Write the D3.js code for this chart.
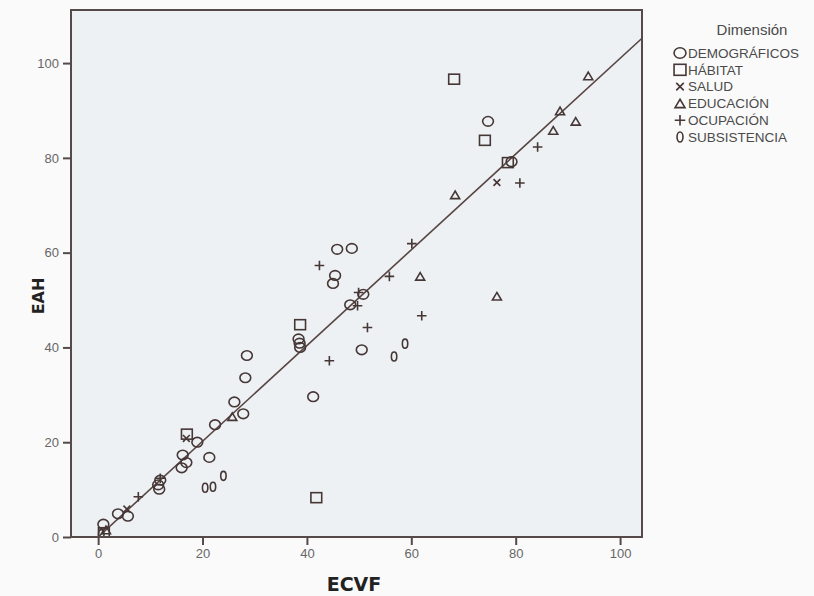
<!DOCTYPE html>
<html>
<head>
<meta charset="utf-8">
<script src="https://cdn.jsdelivr.net/npm/d3@7"></script>
<style>
  html, body { margin: 0; padding: 0; background: #fafafa; }
  svg { display: block; }
</style>
</head>
<body>
<svg id="chart" width="814" height="596"></svg>
<script>
// ---- Data ----
const categories = ["DEMOGRÁFICOS", "HÁBITAT", "SALUD", "EDUCACIÓN", "OCUPACIÓN", "SUBSISTENCIA"];
const shapes = ["circle", "square", "cross", "triangle", "plus", "zero"];

const demograficos = [
  [74.7, 87.7], [79.2, 79.2], [45.8, 60.7], [48.6, 60.9], [45.4, 55.2], [45.0, 53.5],
  [50.8, 51.2], [48.3, 49.0], [38.4, 41.8], [38.6, 40.9], [38.7, 40.0], [50.5, 39.5],
  [41.2, 29.6], [28.5, 38.3], [28.2, 33.6], [26.1, 28.5], [27.8, 26.0], [22.4, 23.7],
  [19.0, 20.0], [21.3, 16.8], [16.2, 17.3], [16.9, 15.7], [16.0, 14.6], [11.9, 12.0],
  [11.7, 10.1], [3.8, 4.9], [5.7, 4.4], [1.0, 2.7], [11.5, 11.0]
];
const habitat = [
  [68.2, 96.6], [74.1, 83.7], [78.5, 79.0], [38.7, 44.8], [17.0, 21.7], [41.8, 8.3], [1.1, 0.9]
];
const salud = [
  [76.4, 74.8], [16.9, 20.8], [5.5, 5.9]
];
const educacion = [
  [93.9, 97.3], [88.5, 89.9], [87.2, 85.8], [91.5, 87.7], [68.4, 72.2], [61.7, 55.0],
  [76.4, 50.8], [25.7, 25.4], [1.5, 1.5]
];
const ocupacion = [
  [84.2, 82.3], [80.8, 74.7], [60.1, 61.9], [42.4, 57.3], [55.8, 55.0], [49.9, 51.6],
  [49.7, 48.8], [62.0, 46.7], [51.6, 44.2], [44.3, 37.2], [7.7, 8.5], [11.9, 12.4]
];
const subsistencia = [
  [58.8, 40.8], [56.7, 38.1], [24.0, 12.9], [20.5, 10.4], [22.0, 10.6], [0.6, 0.6]
];
const seriesValues = [demograficos, habitat, salud, educacion, ocupacion, subsistencia];

const tickValues = [0, 20, 40, 60, 80, 100];
const fitSlope = 1.01;
const fitIntercept = 0.0;
const fitRange = [0, 104.2];

// ---- Layout ----
const svg = d3.select("#chart");
const pL = 71, pR = 642, pT = 10, pB = 537;
const ink = "#453735";

const x = d3.scaleLinear().domain([-5.2, 104.2]).range([pL, pR]);
const y = d3.scaleLinear().domain([0, 111.2]).range([pB, pT]);

// plot background
svg.append("rect").attr("x", pL).attr("y", pT)
  .attr("width", pR - pL).attr("height", pB - pT)
  .attr("fill", "#eef1f4");

// clip
svg.append("clipPath").attr("id", "clip").append("rect")
  .attr("x", pL).attr("y", pT).attr("width", pR - pL).attr("height", pB - pT);

// fit line
svg.append("line")
  .attr("clip-path", "url(#clip)")
  .attr("x1", x(fitRange[0])).attr("y1", y(fitIntercept + fitSlope * fitRange[0]))
  .attr("x2", x(fitRange[1])).attr("y2", y(fitIntercept + fitSlope * fitRange[1]))
  .attr("stroke", "#574543").attr("stroke-width", 1.6);

// marker drawer
function drawMarker(g, shape, cx, cy, s) {
  s = s || 1;
  const st = { stroke: ink, "stroke-width": 1.6, fill: "none" };
  const apply = (sel) => { Object.entries(st).forEach(([k, v]) => sel.attr(k, v)); return sel; };
  if (shape === "circle") {
    apply(g.append("ellipse").attr("cx", cx).attr("cy", cy).attr("rx", 5.4 * s).attr("ry", 4.8 * s));
  } else if (shape === "square") {
    apply(g.append("rect").attr("x", cx - 5.4 * s).attr("y", cy - 5 * s).attr("width", 10.8 * s).attr("height", 10 * s));
  } else if (shape === "cross") {
    const d = 3.4 * s;
    apply(g.append("path").attr("d", `M${cx - d},${cy - d}L${cx + d},${cy + d}M${cx - d},${cy + d}L${cx + d},${cy - d}`));
  } else if (shape === "triangle") {
    const w = 4.5 * s, h = 3.8 * s;
    apply(g.append("path").attr("d", `M${cx},${cy - h}L${cx + w},${cy + h}L${cx - w},${cy + h}Z`));
  } else if (shape === "plus") {
    const d = 4.8 * s;
    apply(g.append("path").attr("d", `M${cx - d},${cy}L${cx + d},${cy}M${cx},${cy - d}L${cx},${cy + d}`));
  } else if (shape === "zero") {
    apply(g.append("ellipse").attr("cx", cx).attr("cy", cy).attr("rx", 2.7 * s).attr("ry", 4.5 * s));
  }
}

const pts = svg.append("g").attr("clip-path", "url(#clip)");
seriesValues.forEach((arr, i) => {
  arr.forEach(([vx, vy]) => drawMarker(pts, shapes[i], x(vx), y(vy)));
});

// frame
svg.append("rect").attr("x", pL).attr("y", pT)
  .attr("width", pR - pL).attr("height", pB - pT)
  .attr("fill", "none").attr("stroke", "#55494a").attr("stroke-width", 2);

// axes
const axisFont = "'Liberation Sans', Arial, sans-serif";
const yAxis = svg.append("g").attr("transform", `translate(${pL},0)`)
  .call(d3.axisLeft(y).tickValues(tickValues).tickSize(8).tickPadding(4));
const xAxis = svg.append("g").attr("transform", `translate(0,${pB})`)
  .call(d3.axisBottom(x).tickValues(tickValues).tickSize(8).tickPadding(4));
[xAxis, yAxis].forEach(a => {
  a.select(".domain").remove();
  a.selectAll(".tick line").attr("stroke", "#55494a").attr("stroke-width", 2);
  a.selectAll(".tick text").attr("fill", "#666").style("font-family", axisFont).style("font-size", "13px");
});

// axis titles
svg.append("text").text("ECVF")
  .attr("x", 354).attr("y", 591).attr("text-anchor", "middle")
  .attr("fill", "#222").style("font-family", "'DejaVu Sans', Verdana, sans-serif")
  .style("font-weight", "bold").style("font-size", "19px");
svg.append("text").text("EAH")
  .attr("transform", "translate(44,296) rotate(-90)").attr("text-anchor", "middle")
  .attr("fill", "#222").style("font-family", "'DejaVu Sans', Verdana, sans-serif")
  .style("font-weight", "bold").style("font-size", "16px");

// legend
const lg = svg.append("g");
lg.append("text").text("Dimensión")
  .attr("x", 752).attr("y", 35).attr("text-anchor", "middle")
  .attr("fill", "#4a4a4a").style("font-family", axisFont).style("font-size", "15px");
categories.forEach((c, i) => {
  const cy = 53 + i * 16.8;
  drawMarker(lg, shapes[i], 680, cy, 1.1);
  lg.append("text").text(c)
    .attr("x", 688).attr("y", cy).attr("dy", "0.36em")
    .attr("fill", "#4a4a4a").style("font-family", axisFont).style("font-size", "13.5px");
});
</script>
</body>
</html>
